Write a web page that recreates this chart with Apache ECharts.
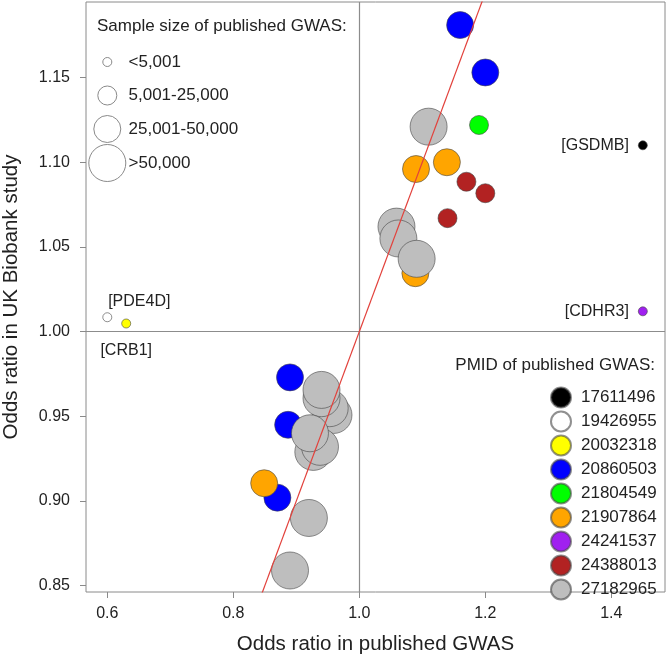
<!DOCTYPE html>
<html>
<head>
<meta charset="utf-8">
<script src="https://cdn.jsdelivr.net/npm/echarts@6/dist/echarts.min.js"></script>
<style>
html,body{margin:0;padding:0;background:#fff;}
#chart{width:667px;height:659px;}
</style>
</head>
<body>
<div id="chart"></div>
<script>
// ---- data ----
const xTicks = [0.6, 0.8, 1.0, 1.2, 1.4];
const yTicks = [0.85, 0.90, 0.95, 1.00, 1.05, 1.10, 1.15];
const xRange = [0.5662, 1.4852];
const yRange = [0.8463, 1.1946];
const identityLine = [0.8, 1.25];

const pmids = ['17611496','19426955','20032318','20860503','21804549','21907864','24241537','24388013','27182965'];
const pmidColors = ['#000000','#ffffff','#ffff00','#0000ff','#00ff00','#ffa500','#a020f0','#b22222','#bebebe'];

const sizeClasses = ['<5,001','5,001-25,000','25,001-50,000','>50,000'];

// one entry per point
const pointPmid = [
  '17611496',
  '19426955',
  '20032318',
  '20860503','20860503','20860503','20860503','20860503',
  '21804549',
  '21907864','21907864','21907864','21907864',
  '24241537',
  '24388013','24388013','24388013',
  '27182965','27182965','27182965','27182965','27182965','27182965','27182965',
  '27182965','27182965','27182965','27182965','27182965','27182965'
];
const pointOrGwas = [
  1.45,
  0.60,
  0.63,
  1.16, 1.20, 0.89, 0.887, 0.87,
  1.19,
  1.09, 1.139, 1.089, 0.849,
  1.45,
  1.17, 1.20, 1.14,
  1.11, 1.059, 1.062, 1.091, 0.959, 0.953, 0.94,
  0.94, 0.927, 0.9376, 0.9217, 0.92, 0.89
];
const pointOrUkb = [
  1.110,
  1.0085,
  1.0048,
  1.181, 1.153, 0.973, 0.945, 0.902,
  1.122,
  1.096, 1.100, 1.0345, 0.9105,
  1.012,
  1.0885, 1.0817, 1.067,
  1.121, 1.062, 1.055, 1.043, 0.9508, 0.9548, 0.9607,
  0.9656, 0.929, 0.932, 0.940, 0.890, 0.859
];
const pointSizeClass = [
  0,
  0,
  0,
  2, 2, 2, 2, 2,
  1,
  2, 2, 2, 2,
  0,
  1, 1, 1,
  3, 3, 3, 3, 3, 3, 3,
  3, 3, 3, 3, 3, 3
];
const pointGene = [
  '[GSDMB]',
  '[PDE4D]',
  '[CRB1]',
  '', '', '', '', '',
  '',
  '', '', '', '',
  '[CDHR3]',
  '', '', '',
  '', '', '', '', '', '', '',
  '', '', '', '', '', ''
];

// ---- styles ----
const FONT = '"Liberation Sans", Arial, Helvetica, sans-serif';
const TXT = '#222';
const sizeDiam = [9, 19, 27, 37];
const labelStyles = {
  '[GSDMB]': {position: 'left', distance: 9},
  '[CDHR3]': {position: 'left', distance: 9},
  '[PDE4D]': {position: 'top', distance: 3, offset: [32, 0]},
  '[CRB1]':  {position: 'bottom', distance: 14, offset: [0, 0]}
};

const series = pmids.map(function (pm, si) {
  const data = [];
  for (let i = 0; i < pointPmid.length; i++) {
    if (pointPmid[i] !== pm) continue;
    const item = {value: [pointOrGwas[i], pointOrUkb[i], pointSizeClass[i]]};
    const g = pointGene[i];
    if (g) {
      const ls = labelStyles[g];
      item.label = Object.assign({
        show: true, formatter: g, color: TXT, fontSize: 16, fontFamily: FONT
      }, ls);
    }
    data.push(item);
  }
  return {
    name: pm,
    type: 'scatter',
    data: data,
    symbol: 'circle',
    symbolSize: function (v) { return sizeDiam[v[2]]; },
    itemStyle: {
      color: pmidColors[si],
      borderColor: 'rgba(70,70,70,0.6)',
      borderWidth: 1,
      opacity: 1
    },
    emphasis: {disabled: true},
    z: 3 + si * 0.01
  };
});

// reference lines at 1
series.push({
  type: 'line',
  data: [],
  silent: true,
  markLine: {
    symbol: 'none',
    silent: true,
    label: {show: false},
    lineStyle: {color: '#8c8c8c', width: 1.2, type: 'solid'},
    data: [{xAxis: 1.0}, {yAxis: 1.0}]
  },
  z: 1
});

// identity line
series.push({
  type: 'line',
  data: [[identityLine[0], identityLine[0]], [identityLine[1], identityLine[1]]],
  symbol: 'none',
  silent: true,
  clip: true,
  lineStyle: {color: '#e2413b', width: 1.2},
  z: 10
});

// size legend graphic
const sizeLegendY = [62, 95.5, 129, 163];
const graphics = [{
  type: 'text', left: 97, top: 18,
  style: {text: 'Sample size of published GWAS:', fill: TXT, font: '17px ' + FONT}
}];
sizeClasses.forEach(function (lab, i) {
  graphics.push({
    type: 'circle',
    shape: {cx: 107.3, cy: sizeLegendY[i], r: sizeDiam[i] / 2},
    style: {fill: '#fff', stroke: '#8a8a8a', lineWidth: 1}
  });
  graphics.push({
    type: 'text', x: 128.5, y: sizeLegendY[i],
    style: {text: lab, fill: TXT, font: '17px ' + FONT, verticalAlign: 'middle', align: 'left'}
  });
});
graphics.push({
  type: 'text', x: 655, y: 365,
  style: {text: 'PMID of published GWAS:', fill: TXT, font: '17px ' + FONT, align: 'right', verticalAlign: 'middle'}
});

const option = {
  animation: false,
  backgroundColor: '#fff',
  textStyle: {fontFamily: FONT},
  grid: {
    left: 86, top: 2, right: 2, bottom: 67,
    containLabel: false,
    outerBoundsMode: 'none',
    show: true, borderColor: '#8a8a8a', borderWidth: 1, backgroundColor: 'transparent'
  },
  xAxis: {
    type: 'value', min: xRange[0], max: xRange[1],
    name: 'Odds ratio in published GWAS', nameLocation: 'middle', nameGap: 42,
    nameTextStyle: {fontSize: 20.5, color: TXT, fontFamily: FONT},
    axisLine: {show: false},
    splitLine: {show: false},
    axisTick: {show: true, length: 6, inside: false, customValues: xTicks, lineStyle: {color: '#8a8a8a'}},
    axisLabel: {
      customValues: xTicks, margin: 14, fontSize: 16, color: TXT, fontFamily: FONT,
      formatter: function (v) { return v.toFixed(1); }
    }
  },
  yAxis: {
    type: 'value', min: yRange[0], max: yRange[1],
    name: 'Odds ratio in UK Biobank study', nameLocation: 'middle', nameGap: 64,
    nameTextStyle: {fontSize: 20.5, color: TXT, fontFamily: FONT},
    axisLine: {show: false},
    splitLine: {show: false},
    axisTick: {show: true, length: 6, inside: false, customValues: yTicks, lineStyle: {color: '#8a8a8a'}},
    axisLabel: {
      customValues: yTicks, margin: 16, fontSize: 16, color: TXT, fontFamily: FONT,
      formatter: function (v) { return v.toFixed(2); }
    }
  },
  legend: {
    data: pmids,
    orient: 'vertical',
    left: 550, top: 386.5,
    icon: 'circle',
    itemWidth: 30, itemHeight: 20, itemGap: 2,
    selectedMode: false,
    padding: 0,
    textStyle: {fontSize: 17, color: TXT, fontFamily: FONT}
  },
  graphic: graphics,
  series: series
};

const chart = echarts.init(document.getElementById('chart'), null, {renderer: 'canvas'});
chart.setOption(option);
</script>
</body>
</html>
